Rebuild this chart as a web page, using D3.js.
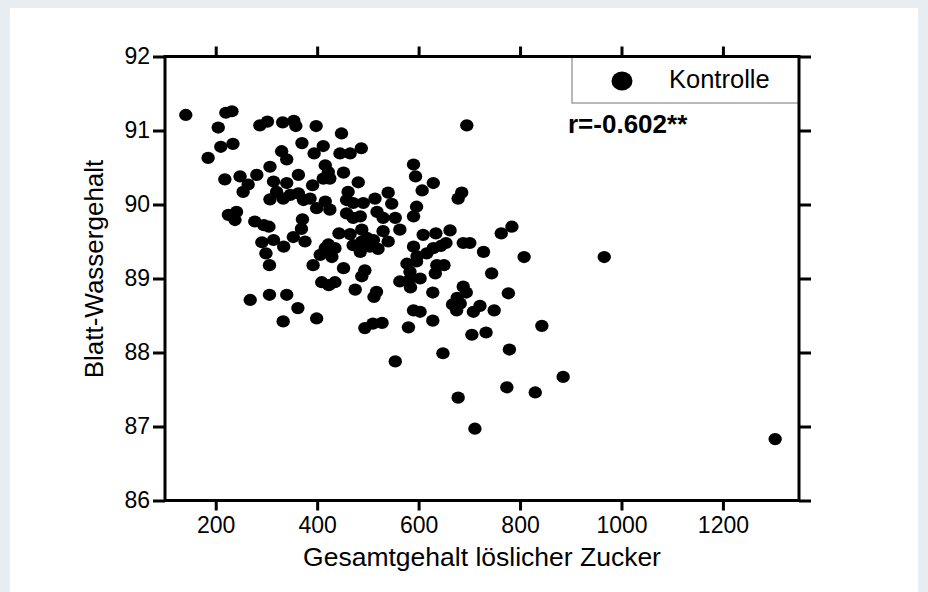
<!DOCTYPE html>
<html>
<head>
<meta charset="utf-8">
<script src="https://cdn.jsdelivr.net/npm/d3@7"></script>
<style>
  body { margin: 0; background: #e9edf1; }
  svg { display: block; }
  text { font-family: "Liberation Sans", Arial, sans-serif; fill: #000; }
</style>
</head>
<body>
<svg id="chart" width="928" height="592"></svg>
<script>
// ---- data ----
const sugar = [141,205,220,232,287,302,332,354,358,398,695,185,210,234,370,330,340,394,412,448,
  445,465,487,590,594,629,607,685,678,307,281,264,248,254,218,314,340,320,307,333,
  347,363,363,416,422,412,425,452,391,373,386,399,416,425,461,458,471,481,491,514,
  540,547,518,530,554,596,590,471,458,485,563,371,369,277,295,305,225,241,238,291,
  314,334,353,376,443,465,488,498,511,504,530,540,422,471,609,634,662,644,688,701,
  590,406,416,429,435,485,520,488,597,616,629,654,728,763,784,808,966,392,452,494,
  488,577,583,596,563,580,603,636,650,633,744,409,423,435,475,517,512,584,628,688,
  694,676,667,682,675,777,721,708,749,362,399,590,628,494,510,528,580,603,705,733,
  843,648,779,885,678,774,830,711,1303,554,268,306,340,333,299,306];
const water = [91.21,91.04,91.24,91.26,91.07,91.12,91.11,91.13,91.06,91.06,91.07,90.63,90.78,90.82,90.83,90.72,90.61,90.69,90.79,90.96,
  90.69,90.69,90.76,90.54,90.38,90.29,90.19,90.16,90.08,90.51,90.40,90.27,90.38,90.17,90.34,90.31,90.29,90.17,90.07,90.08,
  90.13,90.15,90.40,90.53,90.44,90.35,90.35,90.43,90.26,90.06,90.08,89.95,90.04,89.93,90.17,90.06,90.02,90.30,90.02,90.08,
  90.16,90.01,89.90,89.82,89.82,89.97,89.84,89.82,89.88,89.84,89.66,89.80,89.67,89.77,89.72,89.70,89.86,89.90,89.79,89.49,
  89.52,89.43,89.56,89.50,89.61,89.60,89.66,89.55,89.52,89.43,89.64,89.50,89.46,89.45,89.59,89.61,89.65,89.44,89.48,89.48,
  89.43,89.32,89.41,89.29,89.41,89.36,89.40,89.50,89.30,89.34,89.41,89.48,89.36,89.61,89.70,89.29,89.29,89.18,89.14,89.11,
  89.03,89.20,89.09,89.23,88.96,88.97,89.00,89.18,89.18,89.07,89.07,88.95,88.91,88.95,88.85,88.82,88.75,88.88,88.81,88.89,
  88.81,88.74,88.65,88.66,88.57,88.80,88.63,88.55,88.57,88.60,88.46,88.57,88.43,88.33,88.39,88.40,88.34,88.55,88.24,88.27,
  88.36,87.99,88.04,87.67,87.39,87.53,87.46,86.97,86.83,87.88,88.71,88.78,88.78,88.42,89.34,89.18];
const xTicks = [200, 400, 600, 800, 1000, 1200];
const yTicks = [86, 87, 88, 89, 90, 91, 92];
const xDomain = [100, 1350];
const yDomain = [86, 92];
const seriesName = "Kontrolle";
const corrLabel = "r=-0.602**";
const xTitle = "Gesamtgehalt löslicher Zucker";
const yTitle = "Blatt-Wassergehalt";

// ---- layout ----
const svg = d3.select("#chart");
const W = 928, H = 592;
const plot = { left: 165, right: 799, top: 56.5, bottom: 500.5 };

svg.append("rect").attr("x", 0).attr("y", 0).attr("width", W).attr("height", H).attr("fill", "#e8edf2");
svg.append("rect").attr("x", 10).attr("y", 8).attr("width", 908).attr("height", H - 8).attr("fill", "#ffffff");

const x = d3.scaleLinear().domain(xDomain).range([plot.left, plot.right]);
const y = d3.scaleLinear().domain(yDomain).range([plot.bottom, plot.top]);

const pts = sugar.map((s, i) => ({ s, w: water[i] }));

// points
svg.append("g").selectAll("ellipse").data(pts).join("ellipse")
  .attr("cx", d => x(d.s)).attr("cy", d => y(d.w))
  .attr("rx", 6.7).attr("ry", 6.1)
  .attr("fill", "#000");

// legend
const lg = svg.append("g");
lg.append("rect").attr("x", 572).attr("y", plot.top).attr("width", plot.right - 572).attr("height", 46.5)
  .attr("fill", "#fff").attr("stroke", "#8a8a8a").attr("stroke-width", 1.2);
lg.append("ellipse").attr("cx", 622).attr("cy", 81).attr("rx", 10.5).attr("ry", 9.5).attr("fill", "#000");
lg.append("text").attr("x", 669).attr("y", 87.5).attr("font-size", 25.5).text(seriesName);

svg.append("text").attr("x", 568).attr("y", 132.5).attr("font-size", 26).attr("font-weight", "bold").text(corrLabel);

// axes
function styleAxis(g) {
  g.select(".domain").remove();
  g.selectAll(".tick line").attr("stroke", "#000").attr("stroke-width", 3);
  g.selectAll(".tick text").attr("font-size", 23).attr("font-family", "'Liberation Sans', Arial, sans-serif").attr("fill", "#000");
}
svg.append("g").attr("transform", `translate(${plot.left},0)`)
  .call(d3.axisLeft(y).tickValues(yTicks).tickFormat(d3.format("d")).tickSize(12).tickPadding(3)).call(styleAxis);
svg.append("g").attr("transform", `translate(${plot.right},0)`)
  .call(d3.axisRight(y).tickValues(yTicks).tickFormat("").tickSize(12)).call(styleAxis);
svg.append("g").attr("transform", `translate(0,${plot.bottom})`)
  .call(d3.axisBottom(x).tickValues(xTicks).tickFormat(d3.format("d")).tickSize(10).tickPadding(6)).call(styleAxis);
svg.append("g").attr("transform", `translate(0,${plot.top})`)
  .call(d3.axisTop(x).tickValues(xTicks).tickFormat("").tickSize(10)).call(styleAxis);

// frame
svg.append("rect").attr("x", plot.left).attr("y", plot.top)
  .attr("width", plot.right - plot.left).attr("height", plot.bottom - plot.top)
  .attr("fill", "none").attr("stroke", "#000").attr("stroke-width", 3);

// titles
svg.append("text").attr("x", (plot.left + plot.right) / 2).attr("y", 566)
  .attr("text-anchor", "middle").attr("font-size", 26.5).text(xTitle);
svg.append("text").attr("transform", "translate(103,269) rotate(-90)")
  .attr("text-anchor", "middle").attr("font-size", 26).text(yTitle);
</script>
</body>
</html>
